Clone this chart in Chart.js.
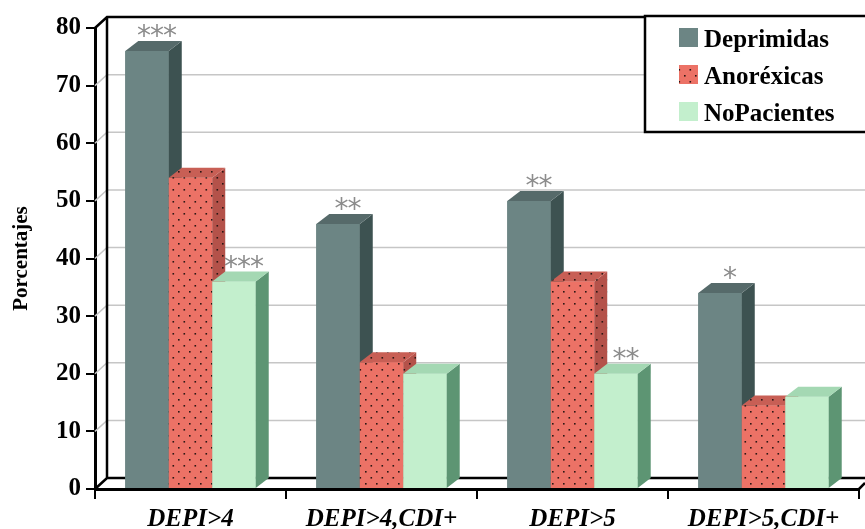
<!DOCTYPE html>
<html>
<head>
<meta charset="utf-8">
<script src="https://cdn.jsdelivr.net/npm/chart.js@4.4.0/dist/chart.umd.min.js"></script>
<style>
  body { margin: 0; background: #fff; }
  canvas { display: block; }
</style>
</head>
<body>
<canvas id="grafico" width="865" height="529"></canvas>
<script>
// Categorias y porcentajes por grupo
var categorias = ['DEPI>4', 'DEPI>4,CDI+', 'DEPI>5', 'DEPI>5,CDI+'];
var deprimidas = [76, 46, 50, 34];
var anorexicas = [54, 22, 36, 14.5];
var noPacientes = [36, 20, 20, 16];

// Marcas de significacion sobre las barras
var sigDeprimidas = ['***', '**', '**', '*'];
var sigAnorexicas = ['', '', '', ''];
var sigNoPacientes = ['***', '', '**', ''];

// Eje Y
var yMin = 0, yMax = 80, yPaso = 10;

// profundidad de las barras y de la pared del fondo
var PX = 13, PY = 10;
var WX = 12, WY = 11;

// trama de puntos para las anorexicas
function trama(fondo) {
  var c = document.createElement('canvas');
  c.width = 11; c.height = 12;
  var g = c.getContext('2d');
  g.fillStyle = fondo;
  g.fillRect(0, 0, 11, 12);
  g.fillStyle = '#2b1714';
  g.fillRect(2, 3, 1.6, 1.6);
  g.fillRect(7.5, 9, 1.6, 1.6);
  return g.createPattern(c, 'repeat');
}

var ctx = document.getElementById('grafico').getContext('2d');

var tramaFrente = trama('#ec7266');
var tramaLado = trama('#b4524a');
var tramaTapa = trama('#c85f55');

Chart.defaults.font.family = "'Liberation Serif', 'Times New Roman', serif";
Chart.defaults.color = '#000';

// pared del fondo con sus lineas de referencia
var paredFondo = {
  id: 'paredFondo',
  beforeDatasetsDraw: function(chart) {
    var c = chart.ctx, a = chart.chartArea, y = chart.scales.y;
    c.save();
    c.strokeStyle = '#c6c6c6';
    c.lineWidth = 1.5;
    for (var v = yMin + yPaso; v < yMax; v += yPaso) {
      var py = y.getPixelForValue(v);
      c.beginPath();
      c.moveTo(a.left, py);
      c.lineTo(a.left + WX, py - WY);
      c.lineTo(chart.width, py - WY);
      c.stroke();
    }
    c.strokeStyle = '#000';
    c.lineWidth = 2.5;
    c.beginPath();
    c.moveTo(a.left, a.top);
    c.lineTo(a.left + WX, a.top - WY);
    c.lineTo(chart.width, a.top - WY);
    c.moveTo(a.left + WX, a.top - WY);
    c.lineTo(a.left + WX, a.bottom - WY);
    c.moveTo(a.left, a.bottom);
    c.lineTo(a.left + WX, a.bottom - WY);
    c.lineTo(chart.width, a.bottom - WY);
    c.moveTo(a.right, a.bottom);
    c.lineTo(a.right + 6, a.bottom - 6);
    c.stroke();
    c.restore();
  }
};

// barras con cara lateral y superior, de la primera serie a la ultima
var barras3d = {
  id: 'barras3d',
  afterDatasetsDraw: function(chart) {
    var c = chart.ctx;
    c.save();
    chart.data.datasets.forEach(function(ds, i) {
      chart.getDatasetMeta(i).data.forEach(function(bar) {
        bar.draw(c, chart.chartArea);
        var p = bar.getProps(['x', 'y', 'width', 'base'], true);
        var l = p.x - p.width / 2, r = p.x + p.width / 2;
        c.fillStyle = ds.colorLado;
        c.beginPath();
        c.moveTo(r, p.y);
        c.lineTo(r + PX, p.y - PY);
        c.lineTo(r + PX, p.base - PY);
        c.lineTo(r, p.base);
        c.closePath();
        c.fill();
        c.fillStyle = ds.colorTapa;
        c.beginPath();
        c.moveTo(l, p.y);
        c.lineTo(l + PX, p.y - PY);
        c.lineTo(r + PX, p.y - PY);
        c.lineTo(r, p.y);
        c.closePath();
        c.fill();
      });
    });

    // asteriscos
    c.fillStyle = '#8c8c8c';
    c.font = "28px 'DejaVu Sans'";
    c.textAlign = 'center';
    c.textBaseline = 'alphabetic';
    chart.data.datasets.forEach(function(ds, i) {
      chart.getDatasetMeta(i).data.forEach(function(bar, j) {
        var s = ds.sig[j];
        if (!s) return;
        var n = s.length, paso = 13;
        var x0 = bar.x + 10 - (n - 1) * paso / 2;
        for (var k = 0; k < n; k++) {
          c.fillText('*', x0 + k * paso, bar.y - PY + 4);
        }
      });
    });
    c.restore();
  }
};

// leyenda en la esquina superior derecha
var leyenda = {
  id: 'leyenda',
  afterDraw: function(chart) {
    var c = chart.ctx;
    c.save();
    c.fillStyle = '#fff';
    c.fillRect(645, 16, 240, 116);
    c.strokeStyle = '#000';
    c.lineWidth = 2.5;
    c.strokeRect(645, 16, 240, 116);
    c.font = "bold 25px 'Liberation Serif'";
    c.textBaseline = 'alphabetic';
    chart.data.datasets.forEach(function(ds, i) {
      var yy = 28 + i * 37;
      c.fillStyle = ds.muestra;
      c.fillRect(679, yy, 19, 19);
      c.fillStyle = '#000';
      c.fillText(ds.label, 704, yy + 19);
    });
    c.restore();
  }
};

var chart = new Chart(ctx, {
  type: 'bar',
  data: {
    labels: categorias,
    datasets: [{
      label: 'Deprimidas',
      data: deprimidas,
      sig: sigDeprimidas,
      backgroundColor: '#6c8584',
      colorLado: '#3d5251',
      colorTapa: '#566a6a',
      muestra: '#6c8584'
    }, {
      label: 'Anoréxicas',
      data: anorexicas,
      sig: sigAnorexicas,
      backgroundColor: tramaFrente,
      colorLado: tramaLado,
      colorTapa: tramaTapa,
      muestra: tramaFrente
    }, {
      label: 'NoPacientes',
      data: noPacientes,
      sig: sigNoPacientes,
      backgroundColor: '#c3efcd',
      colorLado: '#5d9573',
      colorTapa: '#a4d8b3',
      muestra: '#c3efcd'
    }]
  },
  options: {
    responsive: false,
    devicePixelRatio: 1,
    animation: false,
    layout: { padding: { top: 28, right: 6, left: 0, bottom: 0 } },
    datasets: {
      bar: { categoryPercentage: 0.683, barPercentage: 1.0, borderWidth: 0 }
    },
    plugins: {
      legend: { display: false },
      tooltip: { enabled: false }
    },
    scales: {
      x: {
        afterFit: function(s) { s.height = 40; },
        grid: { offset: true, drawOnChartArea: false, drawTicks: true, tickLength: 10, color: '#000', lineWidth: 2 },
        border: { color: '#000', width: 3 },
        ticks: { padding: 6, font: { size: 25, weight: 'bold', style: 'italic' } }
      },
      y: {
        min: yMin,
        max: yMax,
        afterFit: function(s) { s.width = 95; },
        grid: { drawOnChartArea: false, drawTicks: true, tickLength: 9, color: '#000', lineWidth: 2 },
        border: { color: '#000', width: 3 },
        ticks: { stepSize: yPaso, padding: 5, font: { size: 25, weight: 'bold' } },
        title: { display: true, text: 'Porcentajes', padding: { top: 9, bottom: 0 }, font: { size: 21, weight: 'bold' } }
      }
    }
  },
  plugins: [paredFondo, barras3d, leyenda]
});
</script>
</body>
</html>
